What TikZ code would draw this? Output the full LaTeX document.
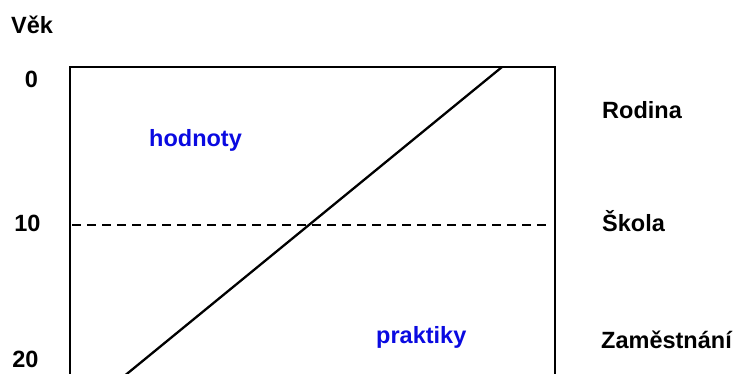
\documentclass[tikz,border=0pt]{standalone}
\usepackage{fontspec}
\setmainfont{Liberation Sans}
\definecolor{lblue}{RGB}{10,10,225}
\begin{document}
\begin{tikzpicture}[x=1pt,y=-1pt,
  lbl/.style={inner sep=0pt,anchor=base west,font=\fontsize{23.5}{28}\selectfont\bfseries},
  num/.style={inner sep=0pt,anchor=base,font=\fontsize{23.5}{28}\selectfont\bfseries},
  val/.style={lbl,text=lblue},
  frame/.style={line width=2.3pt,line cap=rect},
  sep/.style={line width=2.3pt,dash pattern=on 9pt off 6pt}]
\useasboundingbox (0,0) rectangle (741,373);
\clip (0,0) rectangle (741,373);
\fill[white] (0,0) rectangle (741,373);
% frame
\coordinate (bl) at (70,390);
\coordinate (tl) at (70,67);
\coordinate (tr) at (555,67);
\coordinate (br) at (555,390);
\draw[frame] (bl) -- (tl) -- (tr) -- (br);
% dashed line at age 10
\coordinate (dl) at (72,225);
\coordinate (dr) at (551,225);
\draw[sep] (dl) -- (dr);
% diagonal
\coordinate (dtop) at (502,67);
\coordinate (dbot) at (119.4,380);
\draw[line width=2.3pt] (dtop) -- (dbot);
% labels
\node[lbl] (vek) at (11,33) {Věk};
\node[num] (a0) at (31.5,87) {0};
\node[num] (a10) at (27.5,231) {10};
\node[num] (a20) at (25.5,367) {20};
\node[lbl] (rod) at (602,118) {Rodina};
\node[lbl] (sko) at (602,231) {Škola};
\node[lbl] (zam) at (601,348) {Zaměstnání};
\node[val] (hod) at (149,146) {hodnoty};
\node[val] (pra) at (376,343) {praktiky};
\end{tikzpicture}
\end{document}
